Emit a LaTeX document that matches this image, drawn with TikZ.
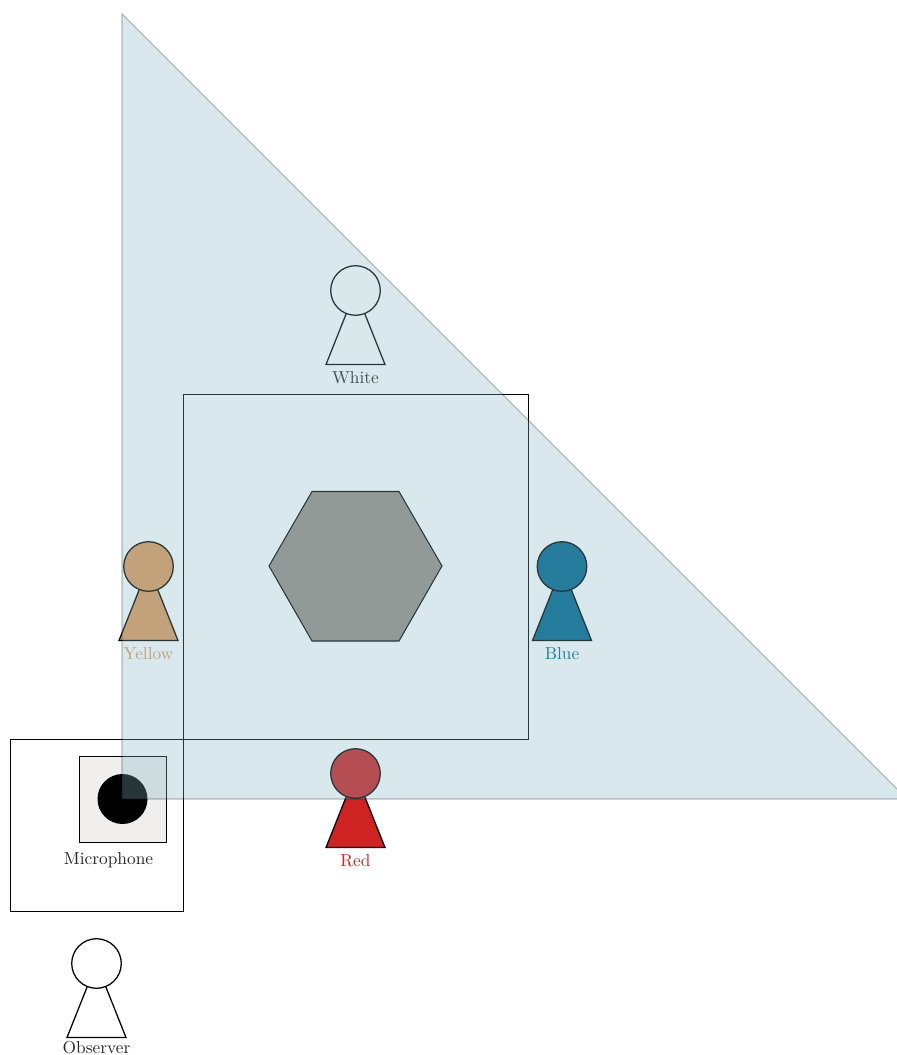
\documentclass[tikz,border=0pt]{standalone}
\usetikzlibrary{shapes.geometric}
\definecolor{pawnred}{RGB}{205,35,35}
\definecolor{pawnyellow}{RGB}{225,154,92}
\definecolor{pawnblue}{RGB}{0,100,142}
\definecolor{hexfill}{RGB}{153,144,132}
\definecolor{micfill}{RGB}{240,239,237}
\definecolor{overlayfill}{RGB}{127,180,192}
\tikzset{
  x=0.565pt,y=-0.565pt,
  outline/.style={draw=black,line width=0.58pt,line join=miter},
  pawnline/.style={draw=black,line width=0.72pt,line join=miter},
  pawnhead/.style={pawnline,circle,minimum size=28pt,inner sep=0pt},
  pawnlabel/.style={inner sep=0pt,anchor=base,scale=0.98},
}
% name, x of centre, y of head centre, fill, label, label colour, label drop
\newcommand{\pawnfig}[7]{%
  \filldraw[pawnline,fill=#4] (#2-29.5,#3+74) -- (#2+29.5,#3+74) -- (#2+8,#3+20) -- (#2-8,#3+20) -- cycle;
  \node[pawnhead,fill=#4] (#1) at (#2,#3) {};
  \node[pawnlabel,text=#6] (#1label) at (#2,#3+#7) {#5};
}
\begin{document}
\begin{tikzpicture}
\useasboundingbox (0,0) rectangle (897,1055);
\pawnfig{white}{355.5}{290.5}{white}{White}{black!85}{93}
\pawnfig{yellow}{148.5}{566.5}{pawnyellow}{Yellow}{pawnyellow}{93}
\pawnfig{blue}{562}{566.5}{pawnblue}{Blue}{pawnblue}{93}
\pawnfig{red}{355.5}{773.5}{pawnred}{Red}{pawnred}{93}
\pawnfig{observer}{96.5}{963.5}{white}{Observer}{black!85}{90}
\draw[outline] (183.5,394.5) rectangle (528.5,739.5);
\filldraw[outline,fill=hexfill] (269,566) -- (312,491.5) -- (399,491.5) -- (442,566) -- (399,641) -- (312,641) -- cycle;
\draw[outline] (10.5,739.5) rectangle (183.5,911.5);
\filldraw[outline,fill=micfill] (79.5,756.5) rectangle (166.5,842.5);
\node[circle,fill=black,minimum size=28.25pt,inner sep=0pt] (mic) at (122.5,799) {};
\node[pawnlabel,text=black!85] (miclabel) at (108.5,864) {Microphone};
\begin{scope}
\clip (0,0) rectangle (897,1055);
\fill[overlayfill,opacity=0.3] (122,14) -- (122,799) -- (907,799) -- cycle;
\draw[black,opacity=0.25,line width=0.6pt] (122,14) -- (122,799) -- (907,799) -- cycle;
\end{scope}
\end{tikzpicture}
\end{document}
